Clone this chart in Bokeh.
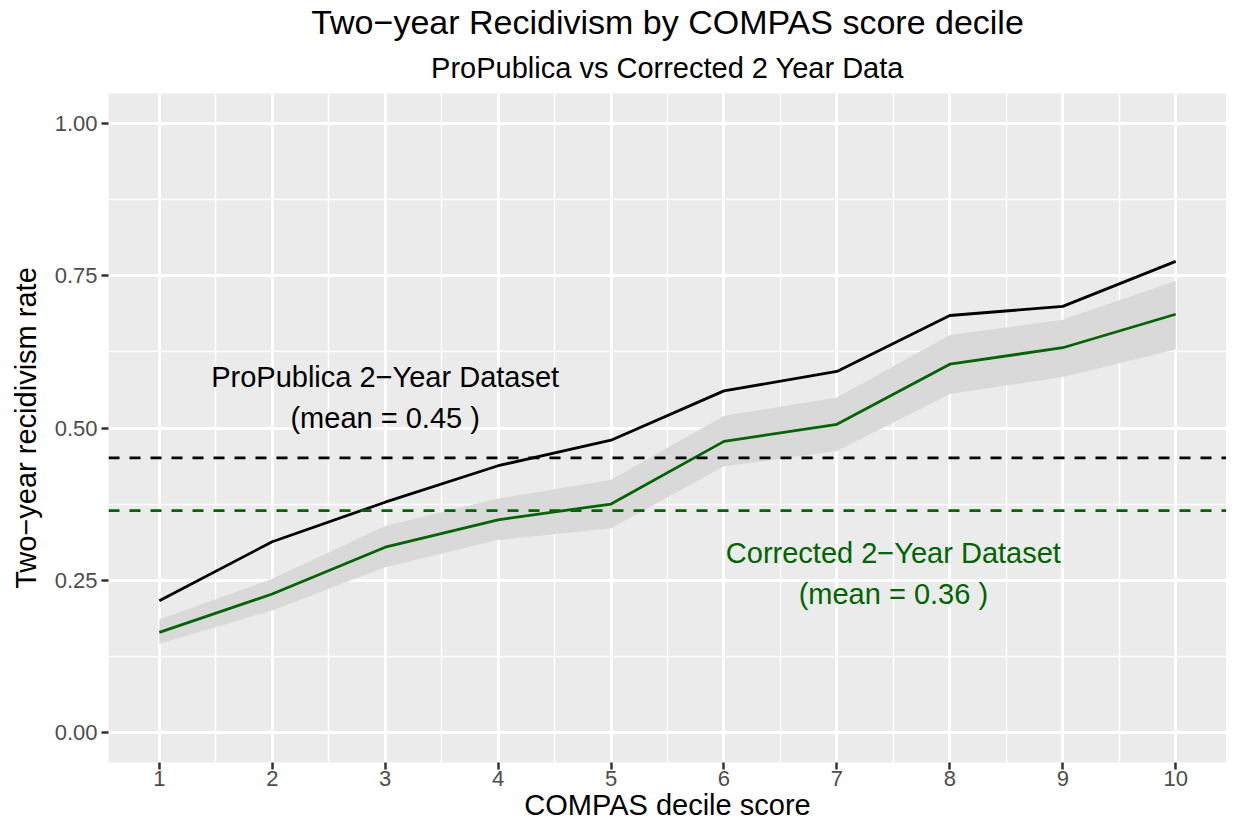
from bokeh.plotting import figure
from bokeh.models import ColumnDataSource, FixedTicker, Range1d, Title, Span, CustomJSTickFormatter
from bokeh.core.properties import value
from bokeh.embed import file_html
from bokeh.resources import INLINE

deciles = [1, 2, 3, 4, 5, 6, 7, 8, 9, 10]
propublica_rate = [0.216, 0.313, 0.378, 0.438, 0.480, 0.561, 0.593, 0.685, 0.700, 0.774]
corrected_rate = [0.164, 0.227, 0.304, 0.349, 0.375, 0.478, 0.506, 0.605, 0.632, 0.687]
corrected_lower = [0.145, 0.200, 0.271, 0.316, 0.335, 0.437, 0.462, 0.556, 0.584, 0.629]
corrected_upper = [0.185, 0.252, 0.339, 0.384, 0.415, 0.520, 0.550, 0.653, 0.678, 0.742]
propublica_mean = 0.451
corrected_mean = 0.364
y_ticks = [0.0, 0.25, 0.5, 0.75, 1.0]
y_minor = [0.125, 0.375, 0.625, 0.875]
x_minor = [1.5, 2.5, 3.5, 4.5, 5.5, 6.5, 7.5, 8.5, 9.5]

FONT = "Liberation Sans"
GREEN = "#006400"

src = ColumnDataSource(dict(x=deciles, pp=propublica_rate, cr=corrected_rate,
                            lo=corrected_lower, hi=corrected_upper))

p = figure(width=1226, height=823, output_backend="svg", toolbar_location=None,
           x_range=Range1d(0.55, 10.45), y_range=Range1d(-0.05, 1.05),
           min_border_left=108, min_border_right=0, min_border_top=0, min_border_bottom=0)

p.background_fill_color = "#EBEBEB"
p.border_fill_color = "white"
p.outline_line_color = None

p.add_layout(Title(text="ProPublica vs Corrected 2 Year Data", align="center",
                   text_font=FONT, text_font_size="29px", text_font_style="normal",
                   text_color="black", standoff=19), "above")
p.add_layout(Title(text="Two\u2212year Recidivism by COMPAS score decile", align="center",
                   text_font=FONT, text_font_size="34px", text_font_style="normal",
                   text_color="black", standoff=0), "above")

# grids
for g in (p.xgrid, p.ygrid):
    g.grid_line_color = "white"
    g.grid_line_width = 2.8
    g.minor_grid_line_color = "white"
    g.minor_grid_line_width = 1.4

p.xaxis.ticker = FixedTicker(ticks=deciles, minor_ticks=x_minor)
p.yaxis.ticker = FixedTicker(ticks=y_ticks, minor_ticks=y_minor)
p.yaxis.formatter = CustomJSTickFormatter(code="return tick.toFixed(2);")

for ax in (p.xaxis, p.yaxis):
    ax.axis_line_color = None
    ax.major_tick_line_color = "#333333"
    ax.major_tick_line_width = 2.5
    ax.major_tick_out = 7
    ax.major_tick_in = 0
    ax.minor_tick_line_color = None
    ax.major_label_text_font = FONT
    ax.major_label_text_font_size = "22px"
    ax.major_label_text_color = "#4D4D4D"
    ax.axis_label_text_font = FONT
    ax.axis_label_text_font_size = "29px"
    ax.axis_label_text_font_style = "normal"
    ax.axis_label_text_color = "black"

p.xaxis.major_label_standoff = 1
p.xaxis.axis_label_standoff = 0
p.yaxis.major_label_standoff = 4
p.yaxis.axis_label_standoff = 10

p.xaxis.axis_label = "COMPAS decile score"
p.yaxis.axis_label = "Two\u2212year recidivism rate"

# ribbon and lines
p.varea(x="x", y1="lo", y2="hi", source=src, fill_color="#D9D9D9", fill_alpha=1.0)
p.line(x="x", y="pp", source=src, line_color="black", line_width=2.8)
p.line(x="x", y="cr", source=src, line_color=GREEN, line_width=2.8)

p.add_layout(Span(location=propublica_mean, dimension="width", line_color="black",
                  line_width=2.8, line_dash="11 10"))
p.add_layout(Span(location=corrected_mean, dimension="width", line_color=GREEN,
                  line_width=2.8, line_dash="11 10"))

labels = ColumnDataSource(dict(
    x=[3.0, 7.5], y=[0.55, 0.26],
    t=["ProPublica 2\u2212Year Dataset\n(mean = %.2f )" % propublica_mean,
       "Corrected 2\u2212Year Dataset\n(mean = %.2f )" % corrected_mean],
    c=["black", GREEN]))
p.text(x="x", y="y", text="t", text_color="c", source=labels,
       text_font=value(FONT), text_font_size="29px", text_align="center",
       text_baseline="middle", text_line_height=1.28)

open("out.html", "w").write(file_html(p, INLINE))
